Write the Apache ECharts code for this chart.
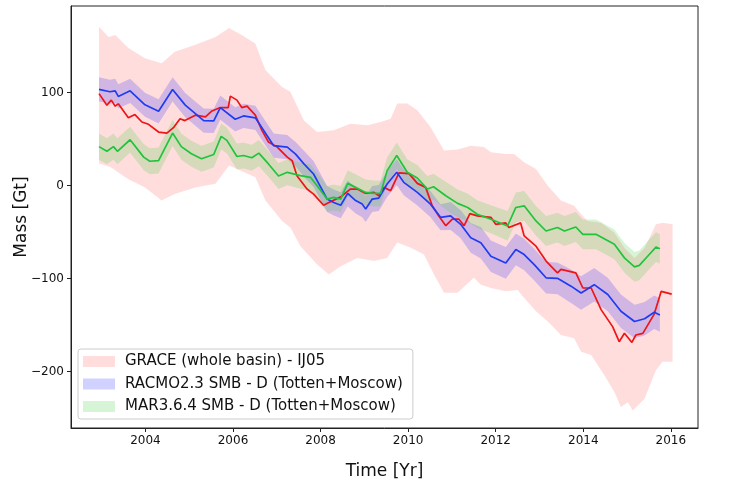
<!DOCTYPE html>
<html>
<head>
<meta charset="utf-8">
<script src="https://cdn.jsdelivr.net/npm/echarts@6/dist/echarts.min.js"></script>
<style>
  html, body { margin: 0; padding: 0; background: #fff; }
  #chart { width: 750px; height: 491px; }
</style>
</head>
<body>
<div id="chart"></div>
<script>
// GRACE (whole basin) - IJ05 : mass anomaly, Gt
var graceT = [2002.94, 2003.12, 2003.22, 2003.31, 2003.38, 2003.61, 2003.76, 2003.92, 2004.07, 2004.30,
  2004.49, 2004.64, 2004.79, 2004.90, 2005.14, 2005.37, 2005.52, 2005.71, 2005.89, 2005.94,
  2006.09, 2006.20, 2006.32, 2006.51, 2006.66, 2006.81, 2007.00, 2007.24, 2007.35, 2007.46,
  2007.69, 2007.84, 2008.07, 2008.19, 2008.46, 2008.68, 2008.84, 2009.03, 2009.22, 2009.33,
  2009.45, 2009.60, 2009.79, 2010.02, 2010.21, 2010.40, 2010.55, 2010.70, 2010.86, 2011.01,
  2011.16, 2011.28, 2011.41, 2011.58, 2011.89, 2012.00, 2012.23, 2012.30, 2012.57, 2012.65,
  2012.92, 2013.15, 2013.41, 2013.49, 2013.83, 2013.99, 2014.18, 2014.41, 2014.67, 2014.82,
  2014.94, 2015.11, 2015.20, 2015.36, 2015.62, 2015.78, 2016.02];
var graceV = [99, 86.6, 92, 85.5, 88, 73, 76.5, 68.5, 66, 57.7,
  56.6, 62.4, 72, 70, 75.8, 74, 80.4, 84, 84, 96.3,
  92, 84, 85.5, 75.8, 59.5, 47, 42, 30.7, 27, 10.8,
  -3.6, -9, -21, -18, -12, -3.6, -3.6, -8.3, -7.2, -10.8,
  -1.8, -5.4, 13.7, 13, 2.5, -1.8, -21.6, -32.5, -43, -36,
  -36, -43, -30, -32.5, -34, -41.5, -40, -45, -40, -54,
  -65, -81, -93.8, -90, -93.8, -110, -110, -133.5, -151.5, -167.7,
  -158.7, -168.5, -160.5, -158.7, -138, -113.6, -116.5];

// GRACE uncertainty envelope
var graceUpT = [2002.94, 2003.16, 2003.31, 2003.61, 2003.99, 2004.37, 2004.67, 2005.14, 2005.60, 2005.91,
  2006.20, 2006.51, 2006.74, 2007.12, 2007.31, 2007.62, 2007.92, 2008.30, 2008.68, 2009.07,
  2009.37, 2009.60, 2009.75, 2009.98, 2010.21, 2010.51, 2010.82, 2011.13, 2011.43, 2011.73,
  2011.89, 2012.23, 2012.42, 2012.65, 2012.92, 2013.19, 2013.49, 2013.79, 2013.95, 2014.10,
  2014.41, 2014.71, 2014.94, 2015.17, 2015.40, 2015.66, 2015.81, 2016.04];
var graceUpV = [171, 160, 162, 148, 137, 131.7, 144, 151.5, 160, 169.6,
  162, 153, 124.5, 106, 101, 70, 57.7, 59.5, 66.7, 65,
  68.5, 72, 88.4, 88.4, 81, 63, 37.9, 39, 43, 41.5,
  36, 34, 34, 25.2, 18, 0, -16, -21.6, -30.7, -37.9,
  -39.9, -50.5, -66.7, -77.6, -66.7, -41.5, -39.7, -41.5];
var graceLoT = [2002.94, 2003.20, 2003.61, 2003.99, 2004.37, 2004.67, 2005.14, 2005.60, 2005.91, 2006.28,
  2006.51, 2006.74, 2007.12, 2007.31, 2007.54, 2007.92, 2008.19, 2008.46, 2008.84, 2009.22,
  2009.52, 2009.75, 2010.06, 2010.36, 2010.59, 2010.82, 2011.13, 2011.50, 2011.66, 2011.89,
  2012.23, 2012.50, 2012.65, 2012.92, 2013.19, 2013.49, 2013.79, 2013.95, 2014.18, 2014.48,
  2014.71, 2014.86, 2015.02, 2015.13, 2015.40, 2015.66, 2015.81, 2016.04];
var graceLoV = [24, 20, 7, -2, -16, -9, -2, 2, 21.6, 14,
  9, -16, -38, -45, -65, -84.8, -95.6, -86.6, -77.6, -81,
  -77.6, -61, -66.7, -74, -95.6, -115, -115, -99, -106.4, -110,
  -113.6, -112, -120.8, -135, -146, -160.5, -164, -178.6, -182, -203.8,
  -221.9, -238, -232.7, -241.7, -229, -198.4, -189.4, -189.4];

// RACMO2.3 SMB - D (Totten+Moscow)
var racmoT = [2002.94, 2003.19, 2003.31, 2003.38, 2003.65, 2003.99, 2004.30, 2004.62, 2004.91, 2005.33,
  2005.56, 2005.71, 2006.05, 2006.24, 2006.51, 2006.93, 2007.24, 2007.43, 2007.62, 2007.84,
  2008.15, 2008.30, 2008.46, 2008.62, 2008.80, 2008.95, 2009.03, 2009.18, 2009.33, 2009.52,
  2009.74, 2009.90, 2010.21, 2010.51, 2010.74, 2010.97, 2011.20, 2011.43, 2011.66, 2011.89,
  2012.23, 2012.46, 2012.65, 2012.88, 2013.15, 2013.41, 2013.72, 2013.95, 2014.25, 2014.56,
  2014.86, 2015.17, 2015.40, 2015.62, 2015.75];
var racmoV = [103.6, 101, 102, 96, 102, 87, 80, 103.5, 86.6, 70,
  69.6, 84, 71.4, 75, 73, 43, 41.5, 34, 23.5, 12.6,
  -14.4, -18, -21, -8.3, -16, -19.8, -25, -14.4, -13.3, 1.8,
  14.4, 3.6, -7.2, -19.8, -34, -32.5, -41.5, -56, -61.3, -75.8,
  -83, -68.5, -74, -84.8, -99, -99.6, -108, -115.4, -106.4, -117,
  -135, -146, -143, -136, -139];
var racmoErr = [13, 13, 13, 13, 13, 13, 13, 13, 13, 13,
  13, 13, 13, 13, 13, 13, 13, 13, 14, 14,
  14, 14, 14, 14, 14, 14, 14, 14, 14, 14,
  14, 14, 14, 14, 14, 15, 15, 16, 17, 17,
  17, 17, 17, 17, 17, 17, 18, 18, 18, 18,
  18, 18, 18, 18, 18];

// MAR3.6.4 SMB - D (Totten+Moscow)
var marT = [2002.94, 2003.12, 2003.27, 2003.36, 2003.65, 2003.96, 2004.10, 2004.30, 2004.62, 2004.82,
  2005.05, 2005.28, 2005.56, 2005.73, 2005.86, 2006.09, 2006.24, 2006.43, 2006.59, 2006.81,
  2007.04, 2007.24, 2007.54, 2007.77, 2007.92, 2008.15, 2008.30, 2008.46, 2008.62, 2008.80,
  2009.03, 2009.22, 2009.37, 2009.52, 2009.74, 2009.98, 2010.21, 2010.44, 2010.58, 2010.86,
  2011.13, 2011.36, 2011.58, 2011.89, 2012.27, 2012.46, 2012.65, 2012.92, 2013.15, 2013.41,
  2013.57, 2013.83, 2013.99, 2014.29, 2014.71, 2014.94, 2015.17, 2015.28, 2015.47, 2015.66,
  2015.75];
var marV = [42, 37, 42, 37, 49.4, 30.7, 26.3, 27, 56.6, 42,
  34.3, 28.9, 33.5, 53, 48.7, 31.4, 32.5, 30, 35, 23.4,
  10.5, 14.4, 10.8, 9, 0, -14.4, -12.6, -14.4, 2.5, -1.8,
  -7.2, -8.3, -8.3, 16.2, 32.5, 14.4, 8.3, -3.6, -1.1, -10.8,
  -19, -23.4, -30.7, -36, -43.3, -23.4, -21.6, -37.9, -48.7, -45,
  -48.7, -44.4, -52.3, -52.3, -63, -77.6, -87.3, -85.6, -75.8, -66,
  -67.8];
var marErr = [14, 14, 14, 14, 14, 14, 14, 14, 14, 14,
  14, 14, 14, 14, 14, 14, 14, 14, 14, 14,
  14, 14, 14, 14, 14, 14, 14, 14, 14, 14,
  14, 14, 14, 14, 14, 14, 14, 14, 14, 15,
  15, 15, 15, 15, 16, 16, 16, 16, 16, 16,
  16, 16, 16, 16, 16, 16, 16, 16, 16, 16,
  16];

// tick labels
var xTicks = [2004, 2006, 2008, 2010, 2012, 2014, 2016];
var yTicks = [-200, -100, 0, 100];

var names = ['GRACE (whole basin) - IJ05', 'RACMO2.3 SMB - D (Totten+Moscow)', 'MAR3.6.4 SMB - D (Totten+Moscow)'];
var bandColors = ['rgba(255,0,0,0.135)', 'rgba(0,0,255,0.18)', 'rgba(50,205,50,0.2)'];
var lineColors = ['#ee1418', '#1f3cf2', '#1fc43c'];

var chart = echarts.init(document.getElementById('chart'));

function pairs(t, v) {
  var out = [];
  for (var i = 0; i < t.length; i++) out.push([t[i], v[i]]);
  return out;
}

function plusMinus(v, e, sign) {
  var out = [];
  for (var i = 0; i < v.length; i++) out.push(v[i] + sign * e[i]);
  return out;
}

// filled envelope drawn as one polygon through the axis scales
function bandSeries(name, upT, upV, loT, loV, color, z) {
  return {
    name: name,
    type: 'custom',
    coordinateSystem: 'cartesian2d',
    silent: true,
    z: z,
    itemStyle: { color: color },
    data: [[upT[0], upV[0]]],
    renderItem: function (params, api) {
      var pts = [];
      for (var i = 0; i < upT.length; i++) pts.push(api.coord([upT[i], upV[i]]));
      for (var j = loT.length - 1; j >= 0; j--) pts.push(api.coord([loT[j], loV[j]]));
      return { type: 'polygon', shape: { points: pts }, style: { fill: color } };
    }
  };
}

function lineSeries(name, t, v, color) {
  return {
    name: name,
    type: 'line',
    data: pairs(t, v),
    showSymbol: false,
    silent: true,
    z: 5,
    lineStyle: { color: color, width: 1.7 },
    itemStyle: { color: color }
  };
}

function minusFmt(v) {
  return v < 0 ? '\u2212' + (-v) : String(v);
}

var option = {
  animation: false,
  grid: {
    left: 71, right: 52, top: 6, bottom: 63,
    show: true, borderColor: '#222', borderWidth: 1, backgroundColor: 'transparent'
  },
  legend: {
    orient: 'vertical',
    left: 78, top: 349,
    data: names.map(function (n, i) {
      return { name: n, icon: 'rect', itemStyle: { color: bandColors[i] } };
    }),
    itemWidth: 32, itemHeight: 11, itemGap: 5.5,
    padding: [4, 10, 4, 5],
    backgroundColor: 'rgba(255,255,255,0.8)',
    borderColor: '#cccccc', borderWidth: 1, borderRadius: 3,
    selectedMode: false,
    textStyle: { fontFamily: 'DejaVu Sans', fontSize: 15, color: '#111', lineHeight: 17, padding: [0, 0, 0, 5] }
  },
  xAxis: {
    type: 'value',
    min: 2002.30, max: 2016.62,
    name: 'Time [Yr]',
    nameLocation: 'middle', nameGap: 35,
    nameTextStyle: { fontFamily: 'DejaVu Sans', fontSize: 17, color: '#111' },
    splitLine: { show: false },
    axisLine: { show: true, onZero: false, lineStyle: { color: '#222' } },
    axisTick: { show: true, customValues: xTicks, length: 4, lineStyle: { color: '#222' } },
    axisLabel: { customValues: xTicks, formatter: function (v) { return String(v); }, fontFamily: 'DejaVu Sans', fontSize: 12, color: '#111', margin: 7 }
  },
  yAxis: {
    type: 'value',
    min: -260.5, max: 193.2,
    name: 'Mass [Gt]',
    nameLocation: 'middle', nameGap: 41, nameRotate: 90, nameMoveOverlap: false,
    nameTextStyle: { fontFamily: 'DejaVu Sans', fontSize: 17, color: '#111' },
    splitLine: { show: false },
    axisLine: { show: true, onZero: false, lineStyle: { color: '#222' } },
    axisTick: { show: true, customValues: yTicks, length: 4, lineStyle: { color: '#222' } },
    axisLabel: { customValues: yTicks, formatter: minusFmt, fontFamily: 'DejaVu Sans', fontSize: 12, color: '#111', margin: 7 }
  },
  series: [
    bandSeries(names[0], graceUpT, graceUpV, graceLoT, graceLoV, bandColors[0], 1),
    bandSeries(names[1], racmoT, plusMinus(racmoV, racmoErr, 1), racmoT, plusMinus(racmoV, racmoErr, -1), bandColors[1], 2),
    bandSeries(names[2], marT, plusMinus(marV, marErr, 1), marT, plusMinus(marV, marErr, -1), bandColors[2], 3),
    lineSeries('GRACE', graceT, graceV, lineColors[0]),
    lineSeries('RACMO', racmoT, racmoV, lineColors[1]),
    lineSeries('MAR', marT, marV, lineColors[2])
  ]
};

chart.setOption(option);
</script>
</body>
</html>
